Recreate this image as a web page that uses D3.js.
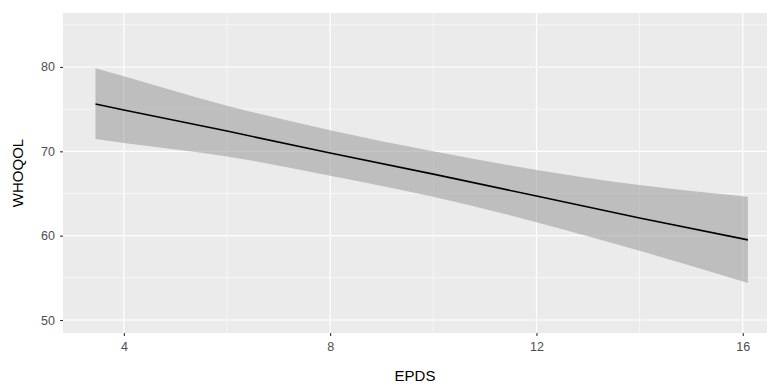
<!DOCTYPE html>
<html>
<head>
<meta charset="utf-8">
<script src="https://cdn.jsdelivr.net/npm/d3@7"></script>
<style>
  body { margin: 0; background: #fff; }
  svg { display: block; font-family: "Liberation Sans", Arial, sans-serif; }
</style>
</head>
<body>
<div class="chartContainer"></div>
<script>
// values
const epds  = [3.45, 4, 6, 8, 10, 12, 14, 16.1];
const fit   = [75.6, 74.9, 72.4, 69.8, 67.3, 64.7, 62.1, 59.5];
const upper = [79.85, 78.9, 75.4, 72.5, 70.0, 67.8, 66.0, 64.6];
const lower = [71.45, 71.0, 69.4, 67.1, 64.6, 61.6, 58.2, 54.4];
const xTicks = [4, 8, 12, 16];
const xMinor = [6, 10, 14];
const yTicks = [50, 60, 70, 80];
const yMinor = [55, 65, 75, 85];

const width = 767, height = 385;
const margins = { top: 13, right: 0, bottom: 52, left: 63 };

const svg = d3.select('.chartContainer')
  .append('svg')
  .attr('width', width)
  .attr('height', height);

const xScale = d3.scaleLinear()
  .domain([2.82, 16.47])
  .range([margins.left, width - margins.right]);
const yScale = d3.scaleLinear()
  .domain([48.46, 86.4])
  .range([height - margins.bottom, margins.top]);

// panel
svg.append('rect')
  .attr('x', margins.left)
  .attr('y', margins.top)
  .attr('width', width - margins.left - margins.right)
  .attr('height', height - margins.top - margins.bottom)
  .style('fill', '#EBEBEB');

const grid = svg.append('g');
grid.selectAll('.hminor').data(yMinor).enter().append('line')
  .attr('x1', margins.left).attr('x2', width - margins.right)
  .attr('y1', d => yScale(d)).attr('y2', d => yScale(d))
  .style('stroke', '#fff').style('stroke-width', 0.6);
grid.selectAll('.vminor').data(xMinor).enter().append('line')
  .attr('y1', margins.top).attr('y2', height - margins.bottom)
  .attr('x1', d => xScale(d)).attr('x2', d => xScale(d))
  .style('stroke', '#fff').style('stroke-width', 0.6);
grid.selectAll('.hmajor').data(yTicks).enter().append('line')
  .attr('x1', margins.left).attr('x2', width - margins.right)
  .attr('y1', d => yScale(d)).attr('y2', d => yScale(d))
  .style('stroke', '#fff').style('stroke-width', 1.2);
grid.selectAll('.vmajor').data(xTicks).enter().append('line')
  .attr('y1', margins.top).attr('y2', height - margins.bottom)
  .attr('x1', d => xScale(d)).attr('x2', d => xScale(d))
  .style('stroke', '#fff').style('stroke-width', 1.2);

const rows = epds.map((x, i) => ({ x: x, fit: fit[i], hi: upper[i], lo: lower[i] }));

// confidence ribbon
svg.append('path')
  .datum(rows)
  .attr('d', d3.area()
    .curve(d3.curveMonotoneX)
    .x(d => xScale(d.x))
    .y0(d => yScale(d.lo))
    .y1(d => yScale(d.hi)))
  .style('fill', '#999999')
  .style('fill-opacity', 0.55);

// fitted line
svg.append('path')
  .datum(rows)
  .attr('d', d3.line()
    .x(d => xScale(d.x))
    .y(d => yScale(d.fit)))
  .style('fill', 'none')
  .style('stroke', '#000')
  .style('stroke-width', 1.6);

// axes
const xAxis = svg.append('g')
  .attr('transform', `translate(0,${height - margins.bottom})`)
  .call(d3.axisBottom(xScale).tickValues(xTicks).tickSize(3).tickPadding(6));
const yAxis = svg.append('g')
  .attr('transform', `translate(${margins.left},0)`)
  .call(d3.axisLeft(yScale).tickValues(yTicks).tickSize(3).tickPadding(5));

[xAxis, yAxis].forEach(a => {
  a.select('.domain').remove();
  a.selectAll('.tick line').style('stroke', '#333').style('stroke-width', 1.1);
  a.selectAll('.tick text')
    .style('fill', '#4D4D4D')
    .style('font-size', '12.5px')
    .style('font-family', '"Liberation Sans", Arial, sans-serif');
});

// axis titles
svg.append('text')
  .text('EPDS')
  .attr('x', (margins.left + width - margins.right) / 2)
  .attr('y', 381)
  .attr('text-anchor', 'middle')
  .style('font-size', '15px')
  .style('fill', '#000');
svg.append('text')
  .text('WHOQOL')
  .attr('transform', `translate(23,${(margins.top + height - margins.bottom) / 2}) rotate(-90)`)
  .attr('text-anchor', 'middle')
  .style('font-size', '15px')
  .style('fill', '#000');
</script>
</body>
</html>
